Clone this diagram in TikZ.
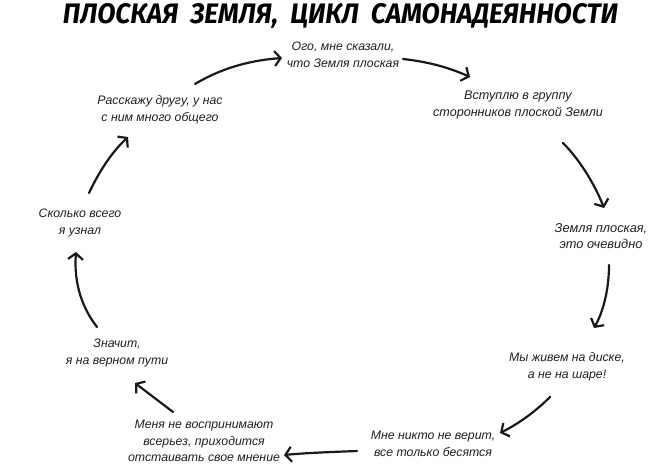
\documentclass[tikz,border=0pt]{standalone}
\usepackage{fontspec}
\setmainfont{Liberation Sans}
\newfontfamily\titlefont{Fira Sans}
\usetikzlibrary{arrows.meta}
\tikzset{
  lbl/.style={align=center, font=\fontsize{12.3pt}{16.5pt}\selectfont\itshape, inner sep=0pt, text=black!88},
  arr/.style={line width=2.2pt, line cap=round, -{Straight Barb[length=6pt,width=15pt,line width=2.2pt]}, black!90}
}
\begin{document}
\begin{tikzpicture}[x=1pt,y=-1pt]
\useasboundingbox (0,0) rectangle (666,475);
\node[inner sep=0pt, anchor=base] (title) at (340.5,23) {\resizebox{555pt}{20pt}{\titlefont\bfseries\itshape ПЛОСКАЯ\ \ ЗЕМЛЯ,\ \ ЦИКЛ\ \ САМОНАДЕЯННОСТИ}};
\node[lbl] (n1) at (343,55) {Ого, мне сказали,\\что Земля плоская};
\node[lbl, font=\fontsize{12.6pt}{16.5pt}\selectfont\itshape] (n2) at (518,105) {Вступлю в группу\\сторонников плоской Земли};
\node[lbl, font=\fontsize{12.8pt}{16.5pt}\selectfont\itshape] (n3) at (601,236) {Земля плоская,\\это очевидно};
\node[lbl] (n4) at (567,367) {Мы живем на диске,\\а не на шаре!};
\node[lbl] (n5) at (433,444) {Мне никто не верит,\\все только бесятся};
\node[lbl] (n6) at (204,441) {Меня не воспринимают\\всерьез, приходится\\отстаивать свое мнение};
\node[lbl] (n7) at (117,353) {Значит,\\я на верном пути};
\node[lbl] (n8) at (80,223) {Сколько всего\\я узнал};
\node[lbl] (n9) at (160,110) {Расскажу другу, у нас\\с ним много общего};
\coordinate (s1) at (195,84); \coordinate (e1) at (282,58);
\coordinate (s2) at (403,59); \coordinate (e2) at (470,77);
\coordinate (s3) at (563,143); \coordinate (e3) at (604,208);
\coordinate (s4) at (609,265); \coordinate (e4) at (594,328);
\coordinate (s5) at (550,397); \coordinate (e5) at (500,433);
\coordinate (s6) at (357,451); \coordinate (e6) at (284,455);
\coordinate (s7) at (173,412); \coordinate (e7) at (135,383);
\coordinate (s8) at (97,327); \coordinate (e8) at (76,252);
\coordinate (s9) at (89,193); \coordinate (e9) at (128,137);
\draw[arr] (s1) .. controls (225,66) and (255,60) .. (e1);
\draw[arr] (s2) .. controls (430,62) and (450,68) .. (e2);
\draw[arr] (s3) .. controls (580,160) and (595,185) .. (e3);
\draw[arr] (s4) .. controls (609,290) and (603,312) .. (e4);
\draw[arr] (s5) .. controls (535,412) and (518,424) .. (e5);
\draw[arr] (s6) .. controls (330,452) and (305,453) .. (e6);
\draw[arr] (s7) .. controls (160,402) and (148,393) .. (e7);
\draw[arr] (s8) .. controls (80,305) and (74,280) .. (e8);
\draw[arr] (s9) .. controls (100,170) and (112,152) .. (e9);
\end{tikzpicture}
\end{document}
